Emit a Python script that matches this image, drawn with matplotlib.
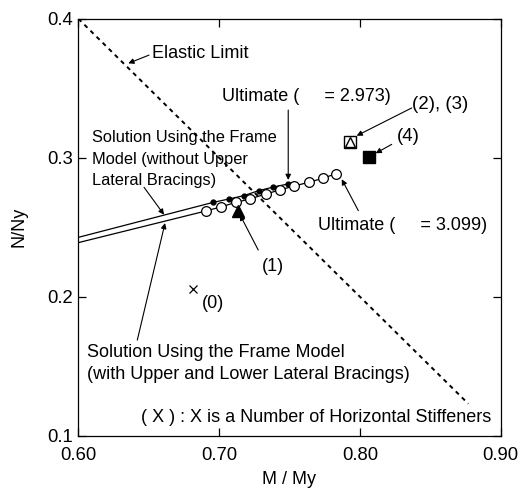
import numpy as np
import matplotlib
matplotlib.use('Agg')
import matplotlib.pyplot as plt

plt.rcParams['font.family'] = 'Liberation Sans'

# Elastic limit: N/Ny + M/My = 1
elastic_m = [0.60, 0.877]
elastic_n = [0.40, 0.123]

# frame model without upper lateral bracings (filled dots)
wo_m = [0.600, 0.6959, 0.7070, 0.7175, 0.7281, 0.7385, 0.7489]
wo_n = [0.2427, 0.2679, 0.2703, 0.2727, 0.2763, 0.2789, 0.2811]

# frame model with upper and lower lateral bracings (open circles)
w_m = [0.600, 0.6907, 0.7016, 0.7120, 0.7219, 0.7331, 0.7432, 0.7532, 0.7636, 0.7738, 0.7830]
w_n = [0.2389, 0.2617, 0.2647, 0.2679, 0.2703, 0.2739, 0.2768, 0.2796, 0.2823, 0.2852, 0.2885]

# FEM results by number of horizontal stiffeners
st0 = (0.6812, 0.2053)
st1 = (0.7136, 0.2617)
st23 = (0.7932, 0.3111)
st4 = (0.8067, 0.3003)

fig = plt.figure(figsize=(5.21, 4.91), dpi=100)
ax = fig.add_axes([0.1503, 0.1126, 0.8107, 0.8493])

ax.plot(elastic_m, elastic_n, color='black', lw=1.4, ls=(0, (2.2, 2.2)))
ax.plot(wo_m, wo_n, color='black', lw=0.9)
ax.plot(wo_m[1:], wo_n[1:], 'o', color='black', ms=3.5, ls='none')
ax.plot(w_m, w_n, color='black', lw=0.9)
ax.plot(w_m[1:], w_n[1:], 'o', mfc='white', mec='black', mew=0.9, ms=7, ls='none')

ax.plot(*st0, 'x', color='black', ms=6, mew=0.9)
ax.plot(*st1, '^', color='black', ms=8)
ax.plot(*st23, 's', mfc='white', mec='black', mew=1.0, ms=9)
ax.plot(*st23, '^', mfc='none', mec='black', mew=1.0, ms=7)
ax.plot(*st4, 's', color='black', ms=8)

fs = 13
arr = dict(arrowstyle='-|>', color='black', lw=0.8, mutation_scale=8, shrinkA=0, shrinkB=0)

def arrow(tail, head):
    ax.annotate('', xy=head, xytext=tail, arrowprops=arr)

ax.text(0.6520, 0.3753, 'Elastic Limit', fontsize=fs, va='center')
arrow((0.6502, 0.3738), (0.6355, 0.3679))

ax.text(0.7021, 0.3437, 'Ultimate (     = 2.973)', fontsize=fs, va='center')
arrow((0.7491, 0.3343), (0.7491, 0.2840))

ax.text(0.8368, 0.3386, '(2), (3)', fontsize=13.5, va='center')
arrow((0.8368, 0.3358), (0.7977, 0.3158))

ax.text(0.8261, 0.3151, '(4)', fontsize=13.5, va='center')
arrow((0.8226, 0.3096), (0.8112, 0.3032))

ax.text(0.6099, 0.2989, 'Solution Using the Frame\nModel (without Upper\nLateral Bracings)',
        fontsize=11.8, va='center', linespacing=1.52)
arrow((0.6467, 0.2787), (0.6609, 0.2590))

ax.text(0.7705, 0.2509, 'Ultimate (     = 3.099)', fontsize=fs, va='center')
arrow((0.7989, 0.2619), (0.7871, 0.2845))

ax.text(0.7303, 0.2216, '(1)', fontsize=fs, va='center')
arrow((0.7278, 0.2336), (0.7148, 0.2590))

ax.text(0.6064, 0.1517, 'Solution Using the Frame Model\n(with Upper and Lower Lateral Bracings)',
        fontsize=fs, va='center', linespacing=1.38)
arrow((0.6419, 0.1688), (0.6616, 0.2530))

ax.text(0.6876, 0.1953, '(0)', fontsize=fs, va='center')

ax.text(0.8936, 0.1129, '( X ) : X is a Number of Horizontal Stiffeners',
        fontsize=fs, va='center', ha='right')

ax.set_xlim(0.60, 0.90)
ax.set_ylim(0.1, 0.4)
ax.set_xticks([0.60, 0.70, 0.80, 0.90])
ax.set_xticklabels(['0.60', '0.70', '0.80', '0.90'])
ax.set_yticks([0.1, 0.2, 0.3, 0.4])
ax.set_yticklabels(['0.1', '0.2', '0.3', '0.4'])
ax.tick_params(direction='in', top=True, right=True, length=6, width=0.9, labelsize=13.3)
ax.tick_params(axis='x', pad=8)
ax.tick_params(axis='y', pad=4)
for s in ax.spines.values():
    s.set_linewidth(0.9)

ax.set_xlabel('M / My', fontsize=13, labelpad=5)
ax.set_ylabel('N/Ny', fontsize=13, labelpad=14)

fig.savefig('out.png', dpi=100)
